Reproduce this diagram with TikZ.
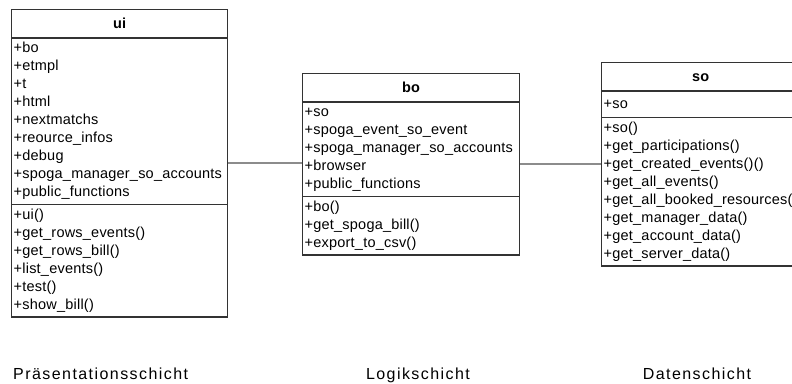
\documentclass[tikz,border=0pt]{standalone}
\usepackage{fontspec}
\setmainfont{Liberation Sans}
\newfontfamily\boxfont[LetterSpace=1.5]{Liberation Sans}
\newfontfamily\layerfont[LetterSpace=9]{Liberation Sans}
\usetikzlibrary{shapes.multipart}
\usetikzlibrary{positioning}

\newcommand{\titlestrut}{\rule[-7pt]{0pt}{24pt}}
\newcommand{\classtitle}[1]{\titlestrut\hfill\textbf{#1}\hfill\null}

\begin{document}
\begin{tikzpicture}[x=1pt, y=-1pt,
    every node/.style={font=\boxfont\fontsize{14.5}{18}\selectfont, inner sep=0pt},
    class/.style={rectangle split, rectangle split parts=3, draw=black!80, line width=1.4pt,
        inner xsep=2pt, inner ysep=1.5pt, align=left, anchor=north west},
    layer/.style={font=\layerfont\fontsize{16}{18}\selectfont},
    link/.style={draw=black!45, line width=2pt}]
    \useasboundingbox (0,0) rectangle (792,383);

    \node[class, text width=212pt] (ui) at (11,9) {\classtitle{ui}
        \nodepart{second}\strut+bo\\+etmpl\\+t\\+html\\+nextmatchs\\+reource\_infos\\+debug\\+spoga\_manager\_so\_accounts\\+public\_functions\strut
        \nodepart{third}\strut+ui()\\+get\_rows\_events()\\+get\_rows\_bill()\\+list\_events()\\+test()\\+show\_bill()\strut};

    \node[class, text width=213pt] (bo) at (302,73) {\classtitle{bo}
        \nodepart{second}\strut+so\\+spoga\_event\_so\_event\\+spoga\_manager\_so\_accounts\\+browser\\+public\_functions\strut
        \nodepart{third}\strut+bo()\\+get\_spoga\_bill()\\+export\_to\_csv()\strut};

    \node[class, text width=194pt] (so) at (601,62) {\classtitle{so}
        \nodepart{second}\rule[-6.5pt]{0pt}{22pt}+so
        \nodepart{third}\strut+so()\\+get\_participations()\\+get\_created\_events()()\\+get\_all\_events()\\+get\_all\_booked\_resources()\\+get\_manager\_data()\\+get\_account\_data()\\+get\_server\_data()\strut};

    % layer labels
    \node[layer, anchor=base west] (layerui) at (13,379) {Präsentationsschicht};
    \node[layer, anchor=base] (layerbo) at (418,379) {Logikschicht};
    \node[layer, anchor=base] (layerso) at (697,379) {Datenschicht};

    \draw[link] (ui.east) -- (ui.east -| bo.west);
    \draw[link] (bo.east) -- (bo.east -| so.west);
\end{tikzpicture}
\end{document}
